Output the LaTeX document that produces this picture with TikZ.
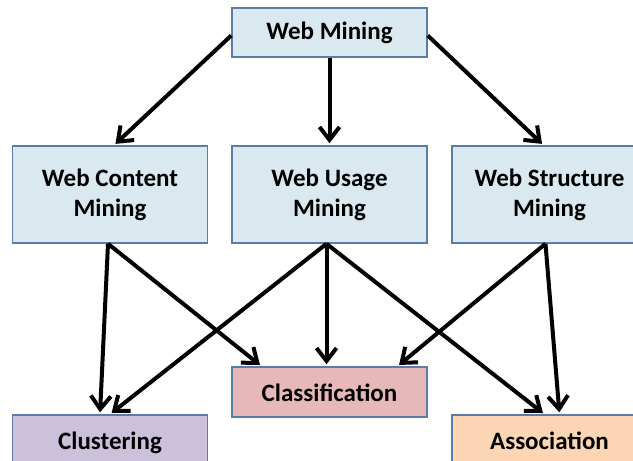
\documentclass[tikz,border=0pt]{standalone}
\usepackage{fontspec}
\setmainfont{Carlito}
\usetikzlibrary{arrows.meta}
\definecolor{bluefill}{HTML}{DAE8F0}
\definecolor{boxline}{HTML}{5A7DA8}
\definecolor{redfill}{HTML}{E6B9B8}
\definecolor{purplefill}{HTML}{CCC1DA}
\definecolor{orangefill}{HTML}{FCD5B5}
\tikzset{
  box/.style={draw=boxline, line width=1.5pt, rectangle, minimum width=195pt, align=center,
    font=\fontsize{25}{30}\selectfont\bfseries, inner sep=0pt},
  toprow/.style={box, fill=bluefill, minimum height=49pt},
  midrow/.style={box, fill=bluefill, minimum height=97pt},
  leaf/.style={box, minimum height=50pt, text height=20pt, text depth=2pt},
  conn/.style={line width=4pt, shorten >=2pt, -{Straight Barb[length=13pt,width=20pt,line width=4pt]}}
}
\begin{document}
\begin{tikzpicture}[x=1pt,y=-1pt]
\useasboundingbox (0,0) rectangle (633,461);
\clip (0,0) rectangle (633,461);
\fill[white] (0,0) rectangle (633,461);
\node[toprow] (wm) at (329.5,32.5) {Web Mining};
\node[midrow] (wc) at (110,194.5) {Web Content\\Mining};
\node[midrow] (wu) at (329.5,194.5) {Web Usage\\Mining};
\node[midrow] (ws) at (549.5,194.5) {Web Structure\\Mining};
\node[leaf, fill=redfill] (cl) at (329.5,392) {Classification};
\node[leaf, fill=purplefill] (cu) at (110,440) {Clustering};
\node[leaf, fill=orangefill] (as) at (549.5,440) {Association};
\coordinate (wmL) at ([yshift=-3pt]wm.west);
\coordinate (wmR) at ([yshift=-3pt]wm.east);
\draw[conn] (wmL) -- ([xshift=4pt]wc.north);
\draw[conn] (wm.south) -- (wu.north);
\draw[conn] (wmR) -- ([xshift=-6pt]ws.north);
\coordinate (wcS) at ([xshift=-2pt]wc.south);
\coordinate (wuS) at ([xshift=-3pt]wu.south);
\coordinate (wsS) at ([xshift=-4pt]ws.south);
\draw[conn] (wcS) -- ([xshift=-10pt]cu.north);
\draw[conn] (wcS) -- ([xshift=-68pt]cl.north);
\draw[conn] (wuS) -- ([xshift=0pt]cu.north);
\draw[conn] (wuS) -- ([xshift=-3pt]cl.north);
\draw[conn] (wuS) -- ([xshift=-5pt]as.north);
\draw[conn] (wsS) -- ([xshift=68pt]cl.north);
\draw[conn] (wsS) -- ([xshift=10pt]as.north);
\end{tikzpicture}
\end{document}
